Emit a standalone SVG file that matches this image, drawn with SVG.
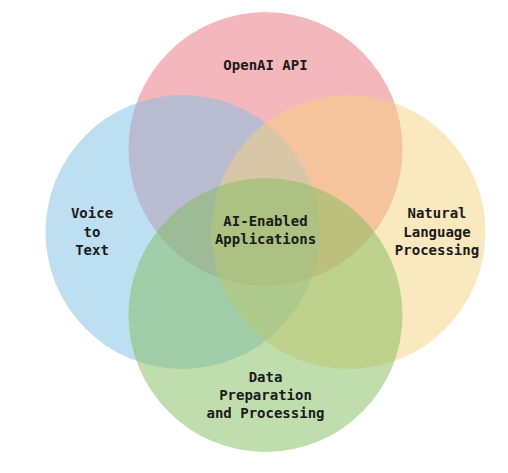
<svg xmlns="http://www.w3.org/2000/svg" width="508" height="473" viewBox="0 0 508 473">
<style>
.c{fill-opacity:0.5;stroke:none}
.t{font-family:"DejaVu Sans Mono","Liberation Mono",monospace;font-size:14px;font-weight:bold;fill:#1a1a1a;text-anchor:middle}
</style>
<rect width="508" height="473" fill="#ffffff"/>
<g id="openai-api"><circle class="c" cx="265.5" cy="149" r="137" fill="#ea6f7a"/></g>
<g id="voice-to-text"><circle class="c" cx="182.5" cy="232" r="137" fill="#7dbfe3"/></g>
<g id="nlp"><circle class="c" cx="348.5" cy="232" r="137" fill="#f6d27e"/></g>
<g id="data-prep"><circle class="c" cx="265.5" cy="315" r="137" fill="#82bb5e"/></g>
<g id="labels">
<text class="t" x="265.5" y="70">OpenAI API</text>
<text class="t" x="92" y="218">Voice</text>
<text class="t" x="92" y="237">to</text>
<text class="t" x="92" y="255">Text</text>
<text class="t" x="437" y="218">Natural</text>
<text class="t" x="437" y="237">Language</text>
<text class="t" x="437" y="255">Processing</text>
<text class="t" x="265.5" y="382">Data</text>
<text class="t" x="265.5" y="400">Preparation</text>
<text class="t" x="265.5" y="418">and Processing</text>
<text class="t" x="265.5" y="226">AI-Enabled</text>
<text class="t" x="265.5" y="244">Applications</text>
</g>
<g id="connectors"></g>
</svg>
